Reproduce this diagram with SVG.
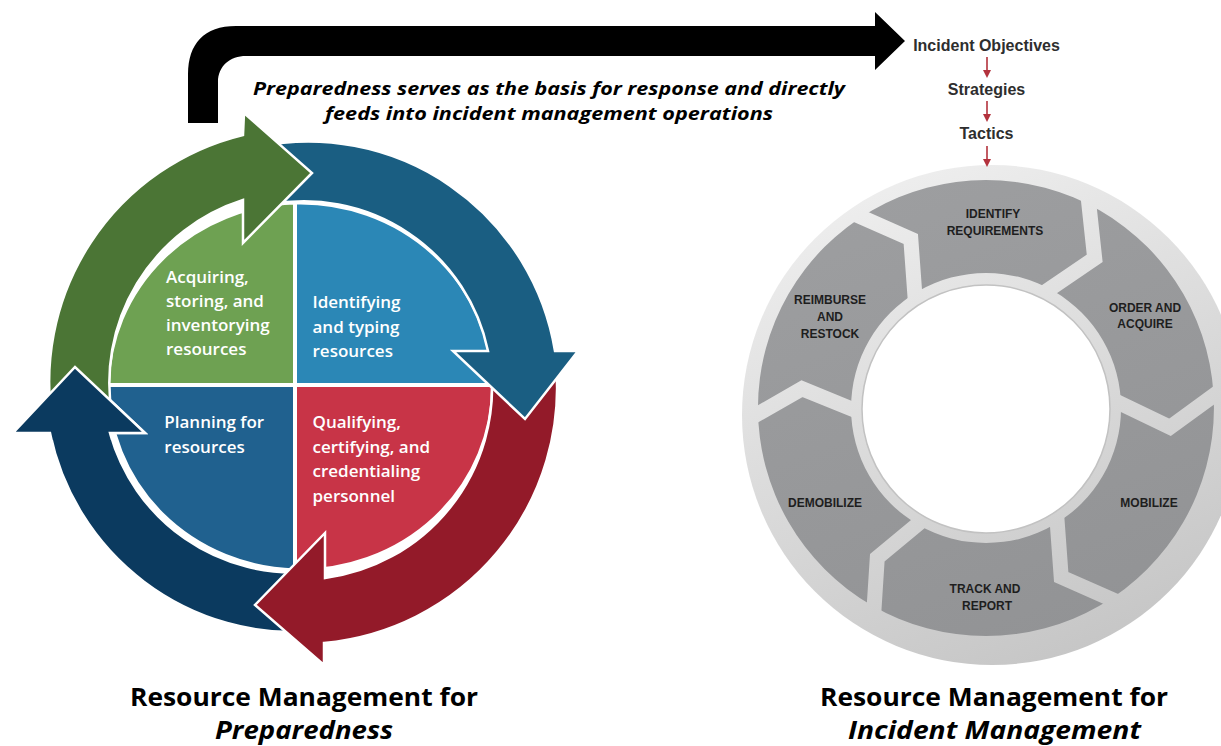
<svg xmlns="http://www.w3.org/2000/svg" width="1221" height="746" viewBox="0 0 1221 746">
  <style>
    .quad-text { font-family: "Open Sans", "Liberation Sans", sans-serif; font-weight: 600; font-size: 17px; fill: #ffffff; }
    .band { stroke: #ffffff; stroke-width: 2.5; stroke-linejoin: miter; }
    .quad { stroke: #ffffff; stroke-width: 4; }
    .seg-text { font-family: "Liberation Sans", Arial, sans-serif; font-weight: 700; font-size: 12px; fill: #1e1e1e; text-anchor: middle; }
    .chain-text { font-family: "Liberation Sans", Arial, sans-serif; font-weight: 700; font-size: 16px; fill: #2e2e2e; text-anchor: middle; }
    .note { font-family: "Open Sans", "Liberation Sans", sans-serif; font-style: italic; font-weight: 700; font-size: 18px; fill: #000000; text-anchor: middle; }
    .title { font-family: "Open Sans", "Liberation Sans", sans-serif; font-weight: 700; font-size: 25px; fill: #000000; text-anchor: middle; }
    .title-it { font-style: italic; }
    .gap { fill: none; stroke: url(#rimGrad); stroke-width: 15; stroke-linejoin: miter; }
    .step { stroke: #b3323d; stroke-width: 1.6; fill: none; }
  </style>
  <defs>
    <linearGradient id="rimGrad" gradientUnits="userSpaceOnUse" x1="880" y1="165" x2="1090" y2="665">
      <stop offset="0" stop-color="#efefef"/>
      <stop offset="1" stop-color="#c5c5c5"/>
    </linearGradient>
    <linearGradient id="segGrad" gradientUnits="userSpaceOnUse" x1="900" y1="180" x2="1070" y2="640">
      <stop offset="0" stop-color="#9d9ea0"/>
      <stop offset="1" stop-color="#929395"/>
    </linearGradient>
    <clipPath id="navyHeadClip">
      <rect x="0" y="355" width="170" height="85"/>
    </clipPath>
    <clipPath id="rimClip">
      <circle cx="992" cy="415" r="248"/>
    </clipPath>
    <marker id="redHead" viewBox="0 0 8 8" refX="0" refY="4" markerWidth="8" markerHeight="8" markerUnits="userSpaceOnUse" orient="auto">
      <path d="M0,0 L8,4 L0,8 Z" fill="#b3323d"/>
    </marker>
  </defs>

  <rect x="0" y="0" width="1221" height="746" fill="#ffffff"/>

  <!-- Preparedness cycle: four quadrants -->
  <g id="quad-acquiring">
    <path class="quad" d="M295,385 L108,385 A192.5,184 0 0 1 295,202.6 Z" fill="#6ea152"/>
    <text class="quad-text" x="166" y="282.5">Acquiring,</text>
    <text class="quad-text" x="166" y="306.8">storing, and</text>
    <text class="quad-text" x="166" y="331">inventorying</text>
    <text class="quad-text" x="166" y="355.3">resources</text>
  </g>
  <g id="quad-identifying">
    <path class="quad" d="M295,385 L295,202.6 A192.5,184 0 0 1 493,385 Z" fill="#2b87b6"/>
    <text class="quad-text" x="312.5" y="308.3">Identifying</text>
    <text class="quad-text" x="312.5" y="332.6">and typing</text>
    <text class="quad-text" x="312.5" y="356.8">resources</text>
  </g>
  <g id="quad-qualifying">
    <path class="quad" d="M295,385 L493,385 A192.5,184 0 0 1 295,570.4 Z" fill="#c83447"/>
    <text class="quad-text" x="312.5" y="428.3">Qualifying,</text>
    <text class="quad-text" x="312.5" y="452.7">certifying, and</text>
    <text class="quad-text" x="312.5" y="477.2">credentialing</text>
    <text class="quad-text" x="312.5" y="501.6">personnel</text>
  </g>
  <g id="quad-planning">
    <path class="quad" d="M295,385 L295,570.4 A192.5,184 0 0 1 108,385 Z" fill="#20618f"/>
    <text class="quad-text" x="164.3" y="428.3">Planning for</text>
    <text class="quad-text" x="164.3" y="452.7">resources</text>
  </g>

  <!-- Cycle arrows (each tail tucks under the previous head) -->
  <g id="cycle-arrows">
    <path id="arrow-navy" class="band" fill="#0b3a5f" d="M313.3,631.6 A250,250 0 0 1 50,433 L13,433 L75,367 L145,433 L110,433 A190,190 0 0 0 310,571.7 Z"/>
    <path id="arrow-red" class="band" fill="#931a29" d="M556,364.6 A256,256 0 0 1 324,643 L324,665 L255,605 L325,533 L325,578 A192,192 0 0 0 491.3,370.3 Z"/>
    <path id="arrow-blue" class="band" fill="#1a5e82" d="M258.9,146.5 A250,250 0 0 1 555,351 L578,351 L525,419 L453,351 L488,351 A188,188 0 0 0 268.8,204.6 Z"/>
    <path id="arrow-green" class="band" fill="#4b7535" d="M52.9,425.2 A254,254 0 0 1 243,135 L244,113 L312,173 L243,243 L243,200 A192,192 0 0 0 112.2,416.1 Z"/>
    <use href="#arrow-navy" clip-path="url(#navyHeadClip)"/>
  </g>

  <!-- Incident management cycle -->
  <g id="incident-ring">
    <circle cx="992" cy="415" r="250" fill="url(#rimGrad)"/>
    <path d="M986,180 A228,228 0 1 1 985.9,180 Z M986,273 A135,135 0 1 0 986.1,273 Z" fill="url(#segGrad)" fill-rule="evenodd"/>
    <g clip-path="url(#rimClip)">
      <polyline class="gap" points="1087.4,190.5 1094.7,258.3 1041.2,294.8"/>
      <polyline class="gap" points="1225.1,387.1 1170,427.3 1111.7,399.2"/>
      <polyline class="gap" points="1123.7,604.6 1061.2,577 1056.5,512.5"/>
      <polyline class="gap" points="873.3,619.9 877.3,557.7 924.9,518.2"/>
      <polyline class="gap" points="746.3,420.6 802,388.7 860.1,412.4"/>
      <polyline class="gap" points="848.3,211.4 910.8,239 915.5,303.5"/>
    </g>
    <circle cx="986" cy="409" r="124" fill="#ffffff" stroke="#c2c2c2" stroke-width="1.5"/>
  </g>
  <g id="step-identify">
    <text class="seg-text" x="993" y="217.5">IDENTIFY</text>
    <text class="seg-text" x="995" y="234.5">REQUIREMENTS</text>
  </g>
  <g id="step-order">
    <text class="seg-text" x="1145" y="311.5">ORDER AND</text>
    <text class="seg-text" x="1145" y="327.5">ACQUIRE</text>
  </g>
  <g id="step-mobilize">
    <text class="seg-text" x="1149" y="506.5">MOBILIZE</text>
  </g>
  <g id="step-track">
    <text class="seg-text" x="985" y="592.5">TRACK AND</text>
    <text class="seg-text" x="987" y="609.5">REPORT</text>
  </g>
  <g id="step-demobilize">
    <text class="seg-text" x="825" y="506.5">DEMOBILIZE</text>
  </g>
  <g id="step-reimburse">
    <text class="seg-text" x="830" y="303.5">REIMBURSE</text>
    <text class="seg-text" x="830" y="320.5">AND</text>
    <text class="seg-text" x="830" y="337.5">RESTOCK</text>
  </g>

  <!-- Objectives chain -->
  <g id="chain-objectives"><text class="chain-text" x="986.5" y="50.5">Incident Objectives</text></g>
  <g id="chain-strategies"><text class="chain-text" x="986.5" y="94.5">Strategies</text></g>
  <g id="chain-tactics"><text class="chain-text" x="986.5" y="139">Tactics</text></g>

  <!-- Connectors -->
  <g id="connectors">
    <path id="feed-arrow" fill="#000000" d="M188,123 V74 C188,44 204,26 236,26 H875 V12 L905,41 L875,70 V56 H246 C230,56 218,66 218,82 V123 Z"/>
    <line class="step" x1="987" y1="57" x2="987" y2="70" marker-end="url(#redHead)"/>
    <line class="step" x1="987" y1="101" x2="987" y2="114" marker-end="url(#redHead)"/>
    <line class="step" x1="987" y1="146" x2="987" y2="159" marker-end="url(#redHead)"/>
  </g>

  <!-- Caption of the feed arrow -->
  <g id="feed-caption">
    <text class="note" x="549" y="95" textLength="592" lengthAdjust="spacingAndGlyphs">Preparedness serves as the basis for response and directly</text>
    <text class="note" x="549" y="120" textLength="448" lengthAdjust="spacingAndGlyphs">feeds into incident management operations</text>
  </g>

  <!-- Titles -->
  <g id="title-preparedness">
    <text class="title" x="304" y="706" textLength="348" lengthAdjust="spacingAndGlyphs">Resource Management for</text>
    <text class="title title-it" x="304" y="739" textLength="178" lengthAdjust="spacingAndGlyphs">Preparedness</text>
  </g>
  <g id="title-incident">
    <text class="title" x="994" y="706" textLength="348" lengthAdjust="spacingAndGlyphs">Resource Management for</text>
    <text class="title title-it" x="994.5" y="739" textLength="293" lengthAdjust="spacingAndGlyphs">Incident Management</text>
  </g>
</svg>
